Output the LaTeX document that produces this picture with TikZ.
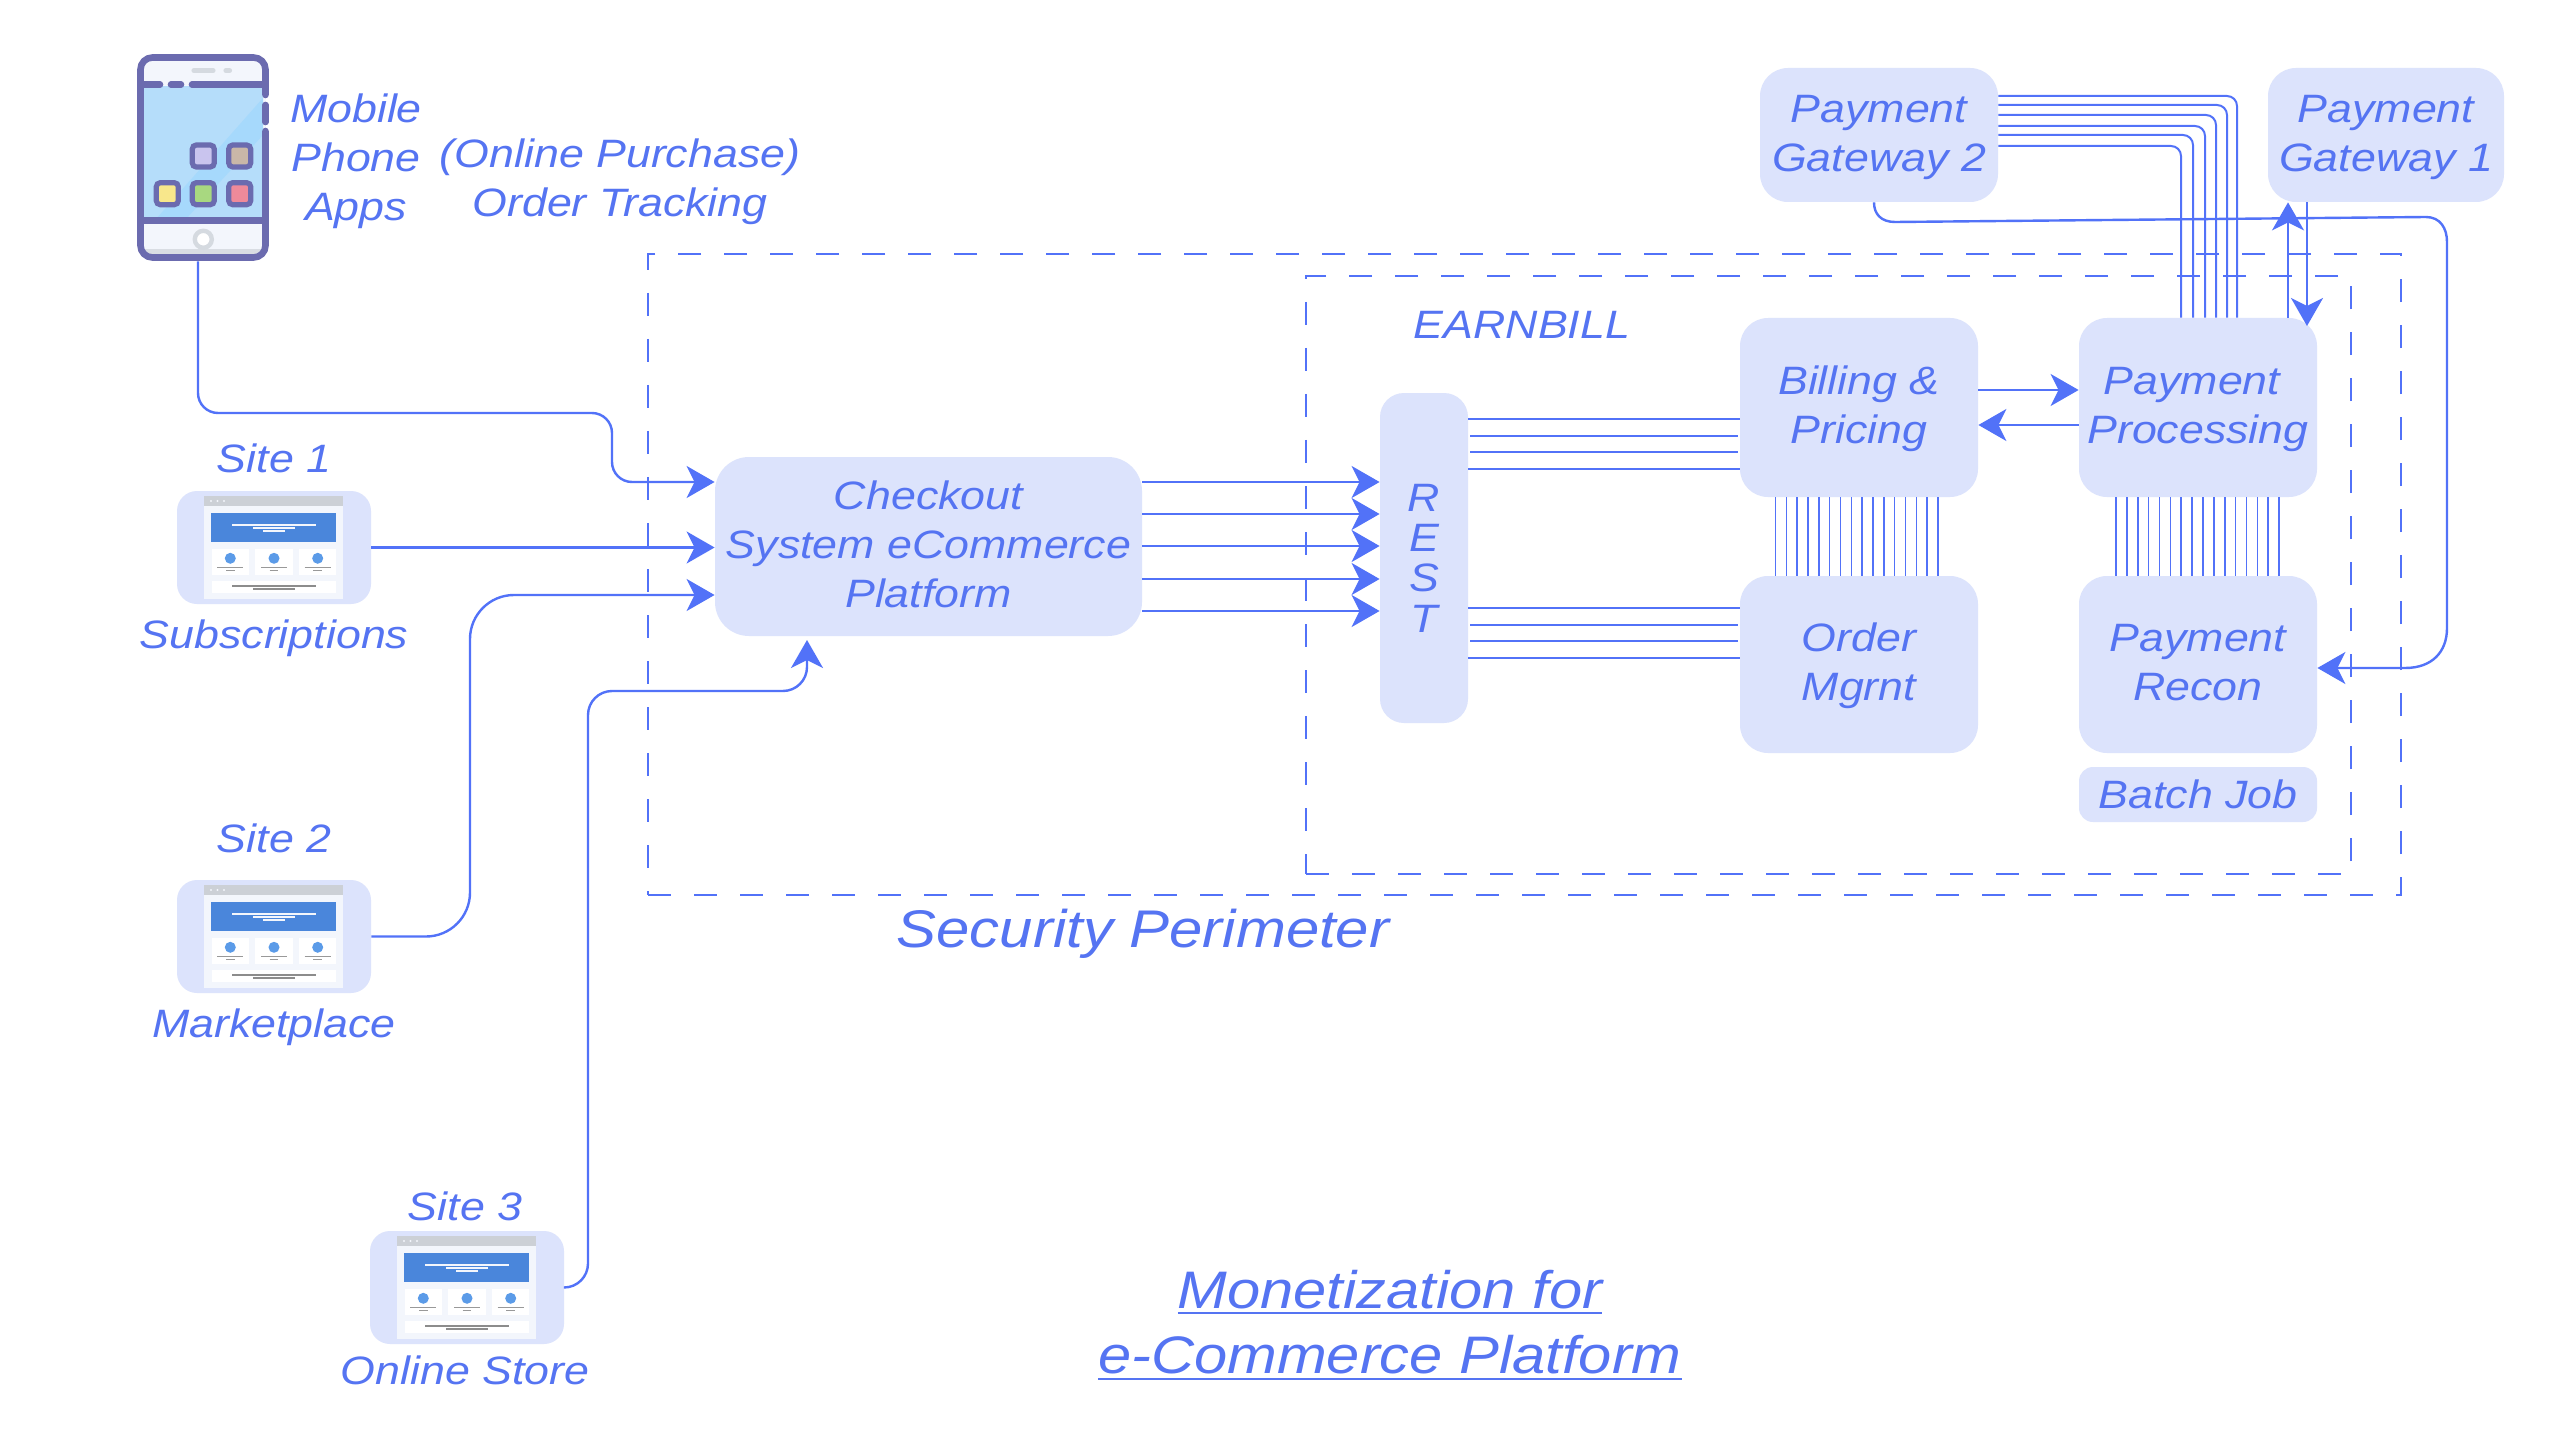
\documentclass[tikz,border=0pt]{standalone}
\usepackage{fontspec}
\setmainfont{Liberation Sans}[FakeStretch=1.13]
\usetikzlibrary{arrows.meta,calc}
\definecolor{linec}{HTML}{5272F8}
\definecolor{textc}{HTML}{5574F2}
\definecolor{boxc}{HTML}{DCE3FC}
\definecolor{phonec}{HTML}{6B6BAF}
\definecolor{pagec}{HTML}{F3F6FC}
\definecolor{barc}{HTML}{CCD0D6}
\definecolor{bandc}{HTML}{4A86DB}
\definecolor{dotc}{HTML}{5B9BE8}
\definecolor{chinc}{HTML}{D9DDE3}
\definecolor{screenc}{HTML}{B5DDFA}
\definecolor{glarec}{HTML}{A6D9FC}
\definecolor{buttonc}{HTML}{D5DAE0}
\newcommand{\topstrut}[1]{\rule{0pt}{#1}}
\newcommand{\botstrut}[1]{\rule[-#1]{0pt}{#1}}
\newsavebox{\titlebox}
\newcommand{\titleline}[1]{\sbox{\titlebox}{#1}\leavevmode\rlap{\rule[-3.1pt]{\wd\titlebox}{1.15pt}}\usebox{\titlebox}}
\tikzset{
  x=0.5pt,y=-0.5pt,
  base/.style={font=\fontsize{19.8}{24.5}\selectfont\itshape,text=textc,align=center,inner sep=0pt},
  label/.style={base,execute at begin node=\topstrut{17.4pt}, execute at end node=\botstrut{5.2pt}},
  card/.style={base,fill=boxc,rounded corners=14pt},
  twoline/.style={execute at begin node=\topstrut{40.4pt}, execute at end node=\botstrut{4.2pt}},
  container/.style={draw=linec,line width=1pt,dash pattern=on 11.5pt off 11.5pt,inner sep=0pt},
  wire/.style={draw=linec,line width=1.2pt},
  thin wire/.style={draw=linec,line width=0.8pt},
  flow/.style={wire,-{Stealth[length=14pt,width=16pt,inset=4pt]}},
  webpage/.pic={
    \fill[pagec] (27,5) rectangle (166,108);
    \fill[barc] (27,5) rectangle (166,15);
    \foreach \d in {34,40.5,47}{\fill[pagec] (\d,10) circle (1.2);}
    \fill[bandc] (34,22) rectangle (159,51);
    \draw[pagec,line width=0.8pt] (55,34)--(139,34) (76,37)--(118,37);
    \draw[pagec,line width=0.7pt] (86,40)--(108,40);
    \foreach \c in {53.3,97,140.7}{
      \fill[white] (\c-18.7,58) rectangle (\c+18.7,84);
      \fill[dotc] (\c,67.3) circle (5.5);
      \draw[gray!80,line width=0.6pt] (\c-13,76.3)--(\c+13,76.3) (\c-4.3,79.3)--(\c+4.3,79.3);
    }
    \fill[white] (34.7,90) rectangle (159,102);
    \draw[gray!90,line width=0.7pt] (55,95)--(139,95) (76,98)--(118,98);
  }
}
\begin{document}
\begin{tikzpicture}
\useasboundingbox (0,0) rectangle (2560,1439);
\fill[white] (0,0) rectangle (2560,1439);

% containers
\node[container,minimum width=876.5pt,minimum height=320.5pt] (perimeter) at (1524.5,574.5) {};
\node[container,minimum width=522.5pt,minimum height=299pt] (earnbill) at (1828.5,575) {};

% phone
\node[inner sep=0pt,minimum width=66pt,minimum height=103.5pt] (phone) at (203,157.5) {};
\fill[pagec,rounded corners=6pt] (140.5,57.5) rectangle (265.5,257.5);
\fill[chinc] (144,249) rectangle (262,254);
\fill[screenc] (143,86) rectangle (263,219);
\fill[glarec] (156,219) -- (186,219) -- (263,135) -- (263,98) -- cycle;
\draw[phonec,line width=3.3pt,line cap=round,rounded corners=6pt]
  (265.5,95) -- (265.5,57.5) -- (140.5,57.5) -- (140.5,257.5) -- (265.5,257.5) -- (265.5,131);
\draw[phonec,line width=3.3pt,line cap=round] (265.5,105) -- (265.5,122);
\draw[phonec,line width=3.3pt,line cap=round] (143,84.7) -- (160,84.7) (171,84.7) -- (181,84.7) (192,84.7) -- (263,84.7);
\draw[phonec,line width=3.3pt] (140.5,220.7) -- (265.5,220.7);
\draw[buttonc,line width=2.6pt,line cap=round] (194,70.7) -- (213,70.7);
\draw[buttonc,line width=2.6pt,line cap=round] (226,70.7) -- (229.5,70.7);
\draw[buttonc,line width=2.2pt,fill=white] (203.3,239.3) circle (8.5);
\foreach \ax/\ay/\ac in {203.3/156/C9C4EE,239.7/156/C9B7A8,167.3/193.7/F8E78B,203.3/193.7/A8D880,239.7/193.7/EF8A9A}{
  \definecolor{appc}{HTML}{\ac}
  \draw[phonec,fill=appc,line width=2.6pt,rounded corners=2pt] (\ax-11,\ay-11) rectangle (\ax+11,\ay+11);
}

% sites
\node[card,rounded corners=10pt,minimum width=97pt,minimum height=56.5pt] (siteone) at (274,547.5) {};
\node[card,rounded corners=10pt,minimum width=97pt,minimum height=56.5pt] (sitetwo) at (274,936.5) {};
\node[card,rounded corners=10pt,minimum width=97pt,minimum height=56.5pt] (sitethree) at (467,1287.5) {};
\pic at (177,491) {webpage};
\pic at (177,880) {webpage};
\pic at (370,1231) {webpage};

% cards
\node[card,execute at end node=\botstrut{2.4pt},rounded corners=17pt,minimum width=213.5pt,minimum height=89.5pt] (checkout) at (928.5,546.5) {Checkout\\System eCommerce\\Platform};
\node[card,rounded corners=12pt,minimum width=44pt,minimum height=165pt,font=\fontsize{19.8}{20.2}\selectfont\itshape] (rest) at (1424,558) {R\\E\\S\\T};
\node[card,twoline,minimum width=119pt,minimum height=89.5pt] (billing) at (1859,407.5) {Billing \&\\Pricing};
\node[card,twoline,minimum width=119pt,minimum height=89.5pt] (processing) at (2198,407.5) {Payment\hspace*{6pt}\\Processing};
\node[card,twoline,minimum width=119pt,minimum height=88.5pt] (order) at (1859,664.5) {Order\\Mgrnt};
\node[card,twoline,minimum width=119pt,minimum height=88.5pt] (recon) at (2198,664.5) {Payment\\Recon};
\node[card,rounded corners=7pt,minimum width=119pt,minimum height=27.5pt] (batch) at (2198,794.5) {Batch Job};
\node[card,twoline,minimum width=119pt,minimum height=67pt] (gatewaytwo) at (1879,135) {Payment\\Gateway 2};
\node[card,twoline,minimum width=118pt,minimum height=67pt] (gatewayone) at (2386,135) {Payment\\Gateway 1};

% labels
\node[label] (mobile) at (356,162.5) {Mobile\\Phone\\Apps};
\node[label] (purchase) at (620,182.5) {(Online Purchase)\\Order Tracking};
\node[label] (siteonel) at (274,460) {Site 1};
\node[label] (subs) at (274,636) {Subscriptions};
\node[label] (sitetwol) at (274,840.5) {Site 2};
\node[label] (market) at (274,1025) {Marketplace};
\node[label] (sitethreel) at (465,1208) {Site 3};
\node[label] (store) at (465,1372.5) {Online Store};
\node[label] (earnlabel) at (1522,326) {EARNBILL};
\node[base,font=\fontsize{26.5}{32}\selectfont\itshape] (seclabel) at (1143,934) {Security Perimeter};
\node[base,font=\fontsize{26.4}{32.85}\selectfont\itshape] (title) at (1390,1325) {\titleline{Monetization for}\\\titleline{e-Commerce Platform}};

% connectors into checkout
\draw[flow,rounded corners=10pt] (phone.south -| 198,0) -- (198,413) -- (612,413) -- (612,482) -- (checkout.west |- 0,482);
\draw[flow] (siteone.east) -- (checkout.west |- siteone.east);
\draw[flow,rounded corners=22pt] (sitetwo.east) -- (470,936.5) -- (470,595) -- (checkout.west |- 0,595);
\draw[flow,rounded corners=12pt] (sitethree.east) -- (588,1287.5) -- (588,691) -- (807,691) -- (807,640);

% checkout to REST
\foreach \y in {482,514,546,579,611}{
  \draw[flow] (checkout.east |- 0,\y) -- (rest.west |- 0,\y);
}
% REST to billing / order
\foreach \y in {419,469}{\draw[wire] (rest.east |- 0,\y) -- (billing.west |- 0,\y);}
\foreach \y in {436,452}{\draw[wire] (1470,\y) -- (1738,\y);}
\foreach \y in {608,658}{\draw[wire] (rest.east |- 0,\y) -- (order.west |- 0,\y);}
\foreach \y in {625,641}{\draw[wire] (1470,\y) -- (1738,\y);}

% billing to order, processing to recon
\foreach \i in {0,...,15}{
  \draw[thin wire] (1775.5+\i*10.83,497) -- (1775.5+\i*10.83,576);
  \draw[thin wire] (2116+\i*10.87,497) -- (2116+\i*10.87,576);
}

% billing <-> processing
\draw[flow] (billing.east |- 0,390) -- (processing.west |- 0,390);
\draw[flow] (processing.west |- 0,425) -- (billing.east |- 0,425);

% gateway 2 to processing
\foreach \y/\x in {96/2237,105/2227,115/2216,126/2205,135/2193,146/2181}{
  \draw[thin wire,line width=1pt,rounded corners=5pt] (gatewaytwo.east |- 0,\y) -- (\x,\y) -- (processing.north -| \x,0);
}
% gateway 1 <-> processing
\draw[flow] (processing.north -| 2288,0) -- (gatewayone.south -| 2288,0);
\draw[flow] (gatewayone.south -| 2307,0) -- (2307,326);
% gateway 2 to recon
\draw[flow] (gatewaytwo.south -| 1874,0) .. controls (1874,214) and (1881,222) .. (1895,222) -- (2426,217)
  .. controls (2440,217) and (2447,228) .. (2447,242) -- (2447,628) .. controls (2447,652) and (2432,668) .. (2405,668) -- (recon.east |- 0,668);
\end{tikzpicture}
\end{document}
